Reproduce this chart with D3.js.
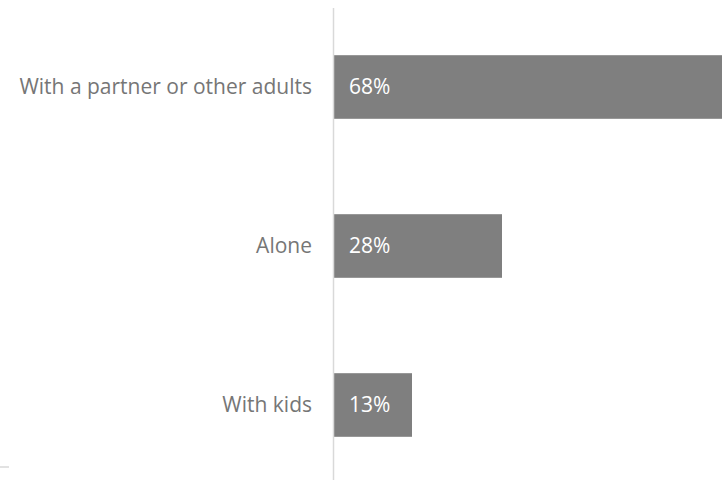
<!DOCTYPE html>
<html lang="en">
  <head>
    <meta charset="UTF-8" />
    <title>Who they are with</title>
    <script src="https://d3js.org/d3.v7.min.js"></script>
    <style>
      body {
        margin: 0;
        background: #fff;
      }
      .cat-label {
        font-family: "Open Sans", sans-serif;
        font-size: 21px;
        fill: #767676;
      }
      .val-label {
        font-family: "Open Sans", sans-serif;
        font-size: 21px;
        fill: #fff;
      }
    </style>
  </head>
  <body>
    <svg id="chart" width="722" height="480"></svg>
    <script>
      // data
      const categories = ["With a partner or other adults", "Alone", "With kids"];
      const shares = [0.68, 0.28, 0.13];
      const valueLabels = ["68%", "28%", "13%"];

      const width = 722;
      const height = 480;
      const svg = d3.select("#chart");

      const x = d3.scaleLinear().domain([0, 1]).range([334, 934]);
      const y = d3.scaleBand().domain(categories).range([7.5, 484.5]).paddingInner(0.6).paddingOuter(0.3);

      const rows = categories.map((c, i) => ({ cat: c, v: shares[i], label: valueLabels[i] }));

      // bars
      svg
        .selectAll(".bar")
        .data(rows)
        .enter()
        .append("rect")
        .attr("class", "bar")
        .attr("x", x(0))
        .attr("y", (d) => y(d.cat))
        .attr("width", (d) => x(d.v) - x(0))
        .attr("height", y.bandwidth())
        .attr("fill", "#7f7f7f");

      // vertical axis line
      svg
        .append("line")
        .attr("x1", x(0) - 0.5)
        .attr("x2", x(0) - 0.5)
        .attr("y1", 8)
        .attr("y2", height)
        .attr("stroke", "#d9d9d9")
        .attr("stroke-width", 1.5);

      // small stub bottom-left
      svg
        .append("line")
        .attr("x1", 0)
        .attr("x2", 9)
        .attr("y1", 467)
        .attr("y2", 467)
        .attr("stroke", "#d9d9d9")
        .attr("stroke-width", 1.5);

      // category labels
      svg
        .selectAll(".cat-label")
        .data(rows)
        .enter()
        .append("text")
        .attr("class", "cat-label")
        .attr("x", x(0) - 22)
        .attr("y", (d) => y(d.cat) + y.bandwidth() / 2)
        .attr("dy", "0.35em")
        .attr("text-anchor", "end")
        .text((d) => d.cat);

      // value labels
      svg
        .selectAll(".val-label")
        .data(rows)
        .enter()
        .append("text")
        .attr("class", "val-label")
        .attr("x", x(0) + 15)
        .attr("y", (d) => y(d.cat) + y.bandwidth() / 2)
        .attr("dy", "0.35em")
        .text((d) => d.label);
    </script>
  </body>
</html>
